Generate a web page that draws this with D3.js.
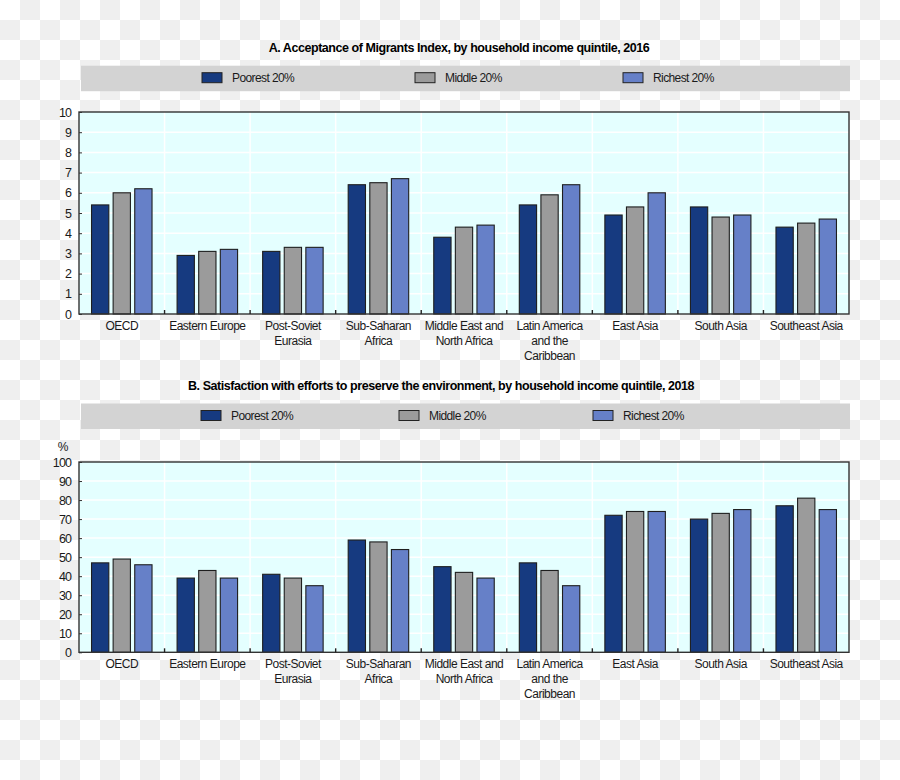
<!DOCTYPE html>
<html>
<head>
<meta charset="utf-8">
<script src="https://cdn.jsdelivr.net/npm/d3@7"></script>
<style>
  body { margin: 0; background: #fff; }
  svg text { font-family: "Liberation Sans", Arial, sans-serif; fill: #1a1a1a; }
</style>
</head>
<body>
<svg id="chart" width="900" height="780"></svg>
<script>
// data
const categories = ["OECD", "Eastern Europe", "Post-Soviet\nEurasia", "Sub-Saharan\nAfrica",
  "Middle East and\nNorth Africa", "Latin America\nand the\nCaribbean", "East Asia", "South Asia", "Southeast Asia"];
const series = ["Poorest 20%", "Middle 20%", "Richest 20%"];

const migrantsPoorest = [5.4, 2.9, 3.1, 6.4, 3.8, 5.4, 4.9, 5.3, 4.3];
const migrantsMiddle  = [6.0, 3.1, 3.3, 6.5, 4.3, 5.9, 5.3, 4.8, 4.5];
const migrantsRichest = [6.2, 3.2, 3.3, 6.7, 4.4, 6.4, 6.0, 4.9, 4.7];
const migrantsTicks = d3.range(0, 11, 1);

const envPoorest = [47, 39, 41, 59, 45, 47, 72, 70, 77];
const envMiddle  = [49, 43, 39, 58, 42, 43, 74, 73, 81];
const envRichest = [46, 39, 35, 54, 39, 35, 74, 75, 75];
const envTicks = d3.range(0, 101, 10);

const colors = ["#163a80", "#9b9b9b", "#6680c8"];

const svg = d3.select("#chart");

// checkered backdrop
const defs = svg.append("defs");
const pat = defs.append("pattern")
    .attr("id", "checker")
    .attr("width", 40).attr("height", 40)
    .attr("patternUnits", "userSpaceOnUse");
pat.append("rect").attr("width", 40).attr("height", 40).attr("fill", "#ffffff");
pat.append("rect").attr("x", 20).attr("y", 0).attr("width", 20).attr("height", 20).attr("fill", "#efefef");
pat.append("rect").attr("x", 0).attr("y", 20).attr("width", 20).attr("height", 20).attr("fill", "#efefef");
svg.append("rect").attr("width", 900).attr("height", 780).attr("fill", "url(#checker)");

const plotLeft = 79, plotRight = 849;

function drawPanel(cfg) {
  const g = svg.append("g");

  // title
  g.append("text")
      .attr("x", cfg.titleX)
      .attr("y", cfg.titleY)
      .attr("text-anchor", "middle")
      .style("font-weight", "bold")
      .style("font-size", "12.5px")
      .style("letter-spacing", "-0.45px")
      .style("fill", "#000")
      .text(cfg.title);

  // legend band
  g.append("rect")
      .attr("x", 81).attr("y", cfg.legendY)
      .attr("width", 769).attr("height", 25.5)
      .attr("fill", "#d3d3d3");

  const leg = g.selectAll(".legend-item")
    .data(series)
    .enter().append("g")
      .attr("class", "legend-item")
      .attr("transform", (d, i) => "translate(" + cfg.legendX[i] + "," + (cfg.legendY + 7) + ")");
  leg.append("rect")
      .attr("width", 20).attr("height", 10)
      .attr("fill", (d, i) => colors[i])
      .attr("stroke", "#222")
      .attr("stroke-width", 1);
  leg.append("text")
      .attr("x", 30).attr("y", 9.5)
      .style("font-size", "12px")
      .style("letter-spacing", "-0.6px")
      .text(d => d);

  const x = d3.scaleBand()
      .domain(categories)
      .range([plotLeft, plotRight])
      .paddingInner(0).paddingOuter(0);
  const xSub = d3.scaleBand()
      .domain(series)
      .range([0, x.bandwidth()])
      .paddingInner(0.2).paddingOuter(0.58);
  const y = d3.scaleLinear()
      .domain(cfg.domain)
      .range([cfg.bottom, cfg.top]);

  // plot background
  g.append("rect")
      .attr("x", plotLeft).attr("y", cfg.top)
      .attr("width", plotRight - plotLeft).attr("height", cfg.bottom - cfg.top)
      .attr("fill", "#e4ffff");

  // grid
  g.append("g").selectAll("line")
    .data(cfg.ticks.slice(1, -1))
    .enter().append("line")
      .attr("x1", plotLeft).attr("x2", plotRight)
      .attr("y1", d => y(d)).attr("y2", d => y(d))
      .attr("stroke", "#fff").attr("stroke-width", 1.5);
  g.append("g").selectAll("line")
    .data(categories.slice(1))
    .enter().append("line")
      .attr("x1", d => x(d)).attr("x2", d => x(d))
      .attr("y1", cfg.top).attr("y2", cfg.bottom)
      .attr("stroke", "#fff").attr("stroke-width", 1.5);

  // bars
  const rows = categories.map((c, i) => ({ cat: c, vals: cfg.values.map(v => v[i]) }));
  const grp = g.append("g").selectAll("g")
    .data(rows)
    .enter().append("g")
      .attr("transform", d => "translate(" + x(d.cat) + ",0)");
  grp.selectAll("rect")
    .data(d => d.vals.map((v, j) => ({ key: series[j], v: v, j: j })))
    .enter().append("rect")
      .attr("x", d => xSub(d.key))
      .attr("width", xSub.bandwidth())
      .attr("y", d => y(d.v))
      .attr("height", d => y(0) - y(d.v))
      .attr("fill", d => colors[d.j])
      .attr("stroke", "#1e1e1e")
      .attr("stroke-width", 1.1);

  // frame
  g.append("rect")
      .attr("x", plotLeft).attr("y", cfg.top)
      .attr("width", plotRight - plotLeft).attr("height", cfg.bottom - cfg.top)
      .attr("fill", "none")
      .attr("stroke", "#333").attr("stroke-width", 1.4);

  // y axis
  const yAxis = d3.axisLeft(y)
      .tickValues(cfg.ticks)
      .tickSize(-3)
      .tickPadding(8);
  const gy = g.append("g")
      .attr("transform", "translate(" + plotLeft + ",0)")
      .call(yAxis);
  gy.select(".domain").remove();
  gy.selectAll(".tick line").attr("stroke", "#333");
  gy.selectAll(".tick text")
      .style("font-size", "12.5px")
      .style("letter-spacing", "-0.9px")
      .style("font-family", null)
      .attr("fill", null);

  if (cfg.unit) {
    g.append("text")
        .attr("x", 63).attr("y", cfg.top - 11)
        .attr("text-anchor", "middle")
        .style("font-size", "12px")
        .text(cfg.unit);
  }

  // bottom boundary ticks
  g.append("g").selectAll("line")
    .data(categories.slice(1))
    .enter().append("line")
      .attr("x1", d => x(d)).attr("x2", d => x(d))
      .attr("y1", cfg.bottom).attr("y2", cfg.bottom - 4)
      .attr("stroke", "#222").attr("stroke-width", 1.4);

  // category labels
  const lab = g.append("g").selectAll("text")
    .data(categories)
    .enter().append("text")
      .attr("x", d => x(d) + x.bandwidth() / 2)
      .attr("y", cfg.bottom + 15.5)
      .attr("text-anchor", "middle")
      .style("font-size", "12px")
      .style("letter-spacing", "-0.5px");
  lab.selectAll("tspan")
    .data(d => d.split("\n"))
    .enter().append("tspan")
      .attr("x", function () { return d3.select(this.parentNode).attr("x"); })
      .attr("dy", (d, i) => i === 0 ? 0 : 15)
      .text(d => d);
}

drawPanel({
  title: "A. Acceptance of Migrants Index, by household income quintile, 2016",
  titleX: 459, titleY: 51.5,
  legendY: 65.7, legendX: [202, 415, 623],
  top: 112, bottom: 314,
  domain: [0, 10], ticks: migrantsTicks,
  values: [migrantsPoorest, migrantsMiddle, migrantsRichest],
  unit: null
});

drawPanel({
  title: "B. Satisfaction with efforts to preserve the environment, by household income quintile, 2018",
  titleX: 441, titleY: 390,
  legendY: 403.5, legendX: [201, 399, 593],
  top: 462, bottom: 652.3,
  domain: [0, 100], ticks: envTicks,
  values: [envPoorest, envMiddle, envRichest],
  unit: "%"
});
</script>
</body>
</html>
